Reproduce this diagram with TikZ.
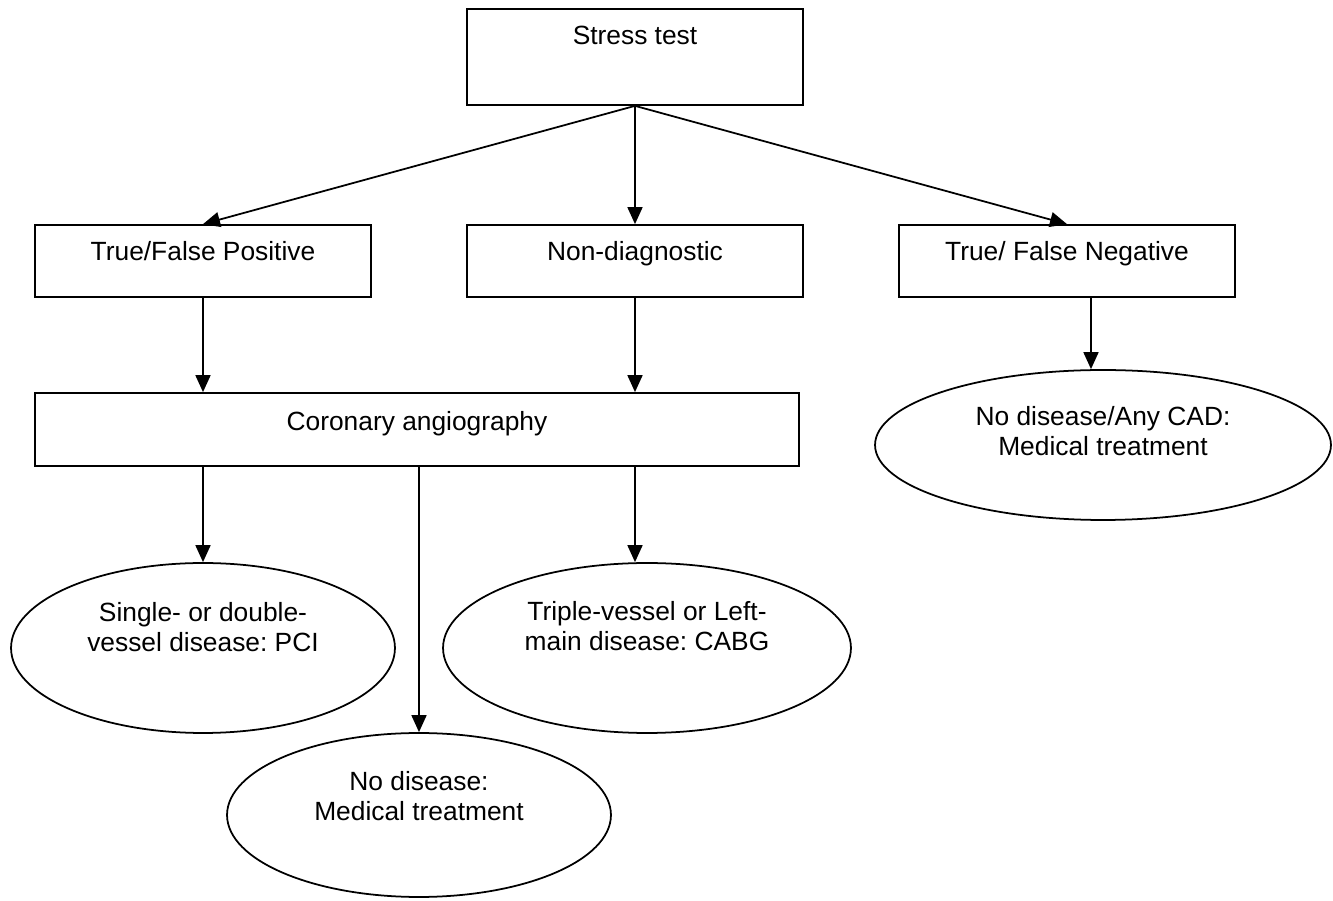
\documentclass[tikz,border=0pt]{standalone}
\usepackage{fontspec}
\setmainfont{Liberation Sans}
\usepackage{tikz}
\usetikzlibrary{positioning,arrows.meta,shapes.geometric}
\frenchspacing

\begin{document}
\begin{tikzpicture}[
  x=0.02cm, y=-0.02cm,
  font=\fontsize{15}{17}\selectfont,
  box/.style={
    rectangle, draw, line width=1pt,
    minimum width=6.72cm, minimum height=1.44cm,
    inner sep=0pt
  },
  oval/.style={
    ellipse, draw, line width=1pt,
    minimum height=3.4cm, inner sep=0pt
  },
  txt/.style={align=center, inner sep=0pt},
  arr/.style={-{Triangle[length=0.34cm,width=0.3cm]}, line width=1pt}
]
\useasboundingbox (0,0) rectangle (1333,901);

% Stress test
\node[box, minimum height=1.92cm] (stress) at (635,57) {};
\node[txt, anchor=base] (stresst) at (635,45) {Stress test};

% Test results
\node[box] (tfp) at (203,261) {};
\node[txt, anchor=base] (tfpt) at (203,261) {True/False Positive};

\node[box] (nd) at (635,261) {};
\node[txt, anchor=base] (ndt) at (635,261) {Non-diagnostic};

\node[box] (tfn) at (1067,261) {};
\node[txt, anchor=base] (tfnt) at (1067,261) {True/ False Negative};

% Angiography
\node[box, minimum width=15.28cm, minimum height=1.46cm] (cor) at (417,429.5) {};
\node[txt, anchor=base] (cort) at (417,431) {Coronary angiography};

% Outcomes
\node[oval, minimum width=7.68cm] (pci) at (203,648) {};
\node[txt] (pcit) at (203,627) {Single- or double-\\vessel disease: PCI};

\node[oval, minimum width=8.16cm] (cabg) at (647,648) {};
\node[txt] (cabgt) at (647,626) {Triple-vessel or Left-\\main disease: CABG};

\node[oval, minimum width=7.68cm, minimum height=3.28cm] (nodis) at (419,815) {};
\node[txt] (nodist) at (419,796) {No disease:\\Medical treatment};

\node[oval, minimum width=9.12cm, minimum height=3.0cm] (anycad) at (1103,445) {};
\node[txt] (anycadt) at (1103,431) {No disease/Any CAD:\\Medical treatment};

% Arrows
\draw[arr] (stress.south) -- (tfp.north);
\draw[arr] (stress.south) -- (nd.north);
\draw[arr] (stress.south) -- (tfn.north);
\draw[arr] (tfp.south) -- (tfp.south |- cor.north);
\draw[arr] (nd.south) -- (nd.south |- cor.north);
\draw[arr] (tfp |- cor.south) -- (pci.north);
\draw[arr] (nodis |- cor.south) -- (nodis.north);
\draw[arr] (nd |- cor.south) -- (nd |- cabg.north);
\draw[arr] ([xshift=0.48cm]tfn.south) -- ([xshift=0.48cm]tfn.south |- anycad.north);

\end{tikzpicture}
\end{document}
